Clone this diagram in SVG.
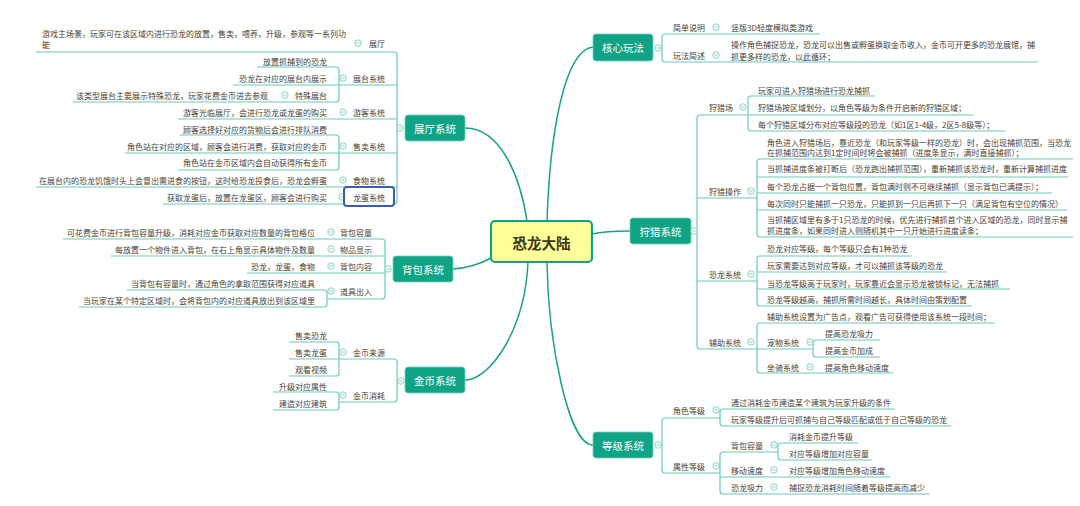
<svg xmlns="http://www.w3.org/2000/svg" xmlns:xlink="http://www.w3.org/1999/xlink" width="1080" height="506" viewBox="0 0 1080 506">
<style>
.t{font-family:"Noto Sans CJK SC","Liberation Sans",sans-serif;font-size:8px;fill:#4a4232;dominant-baseline:central}
.e{text-anchor:end}
.m{font-family:"Noto Sans CJK SC","Liberation Sans",sans-serif;font-size:10.5px;fill:#ffffff;text-anchor:middle;dominant-baseline:central}
.nb{fill:#10a386;stroke:#6fd0bc;stroke-width:0.8}
.br{fill:none;stroke:#6ccab6;stroke-width:1.2}
.cv{fill:none;stroke:#1aa38a;stroke-width:1.5}
</style>
<defs>
<g id="c"><circle r="3.2" fill="#ffffff" stroke="#79cdbb" stroke-width="0.9"/><line x1="-1.7" x2="1.7" y1="0" y2="0" stroke="#79cdbb" stroke-width="0.9"/></g>
</defs>
<rect width="1080" height="506" fill="#ffffff"/>
<g id="connectors">
<path class="cv" d="M465,128 C500,128 520,175 527,221"/>
<path class="cv" d="M593,47 C565,50 550,130 547,221"/>
<path class="cv" d="M592,234 C605,231 615,231 630,231"/>
<path class="cv" d="M491,258 C478,265 468,268 453,269"/>
<path class="cv" d="M528,262 C525,330 490,380 465,380"/>
<path class="cv" d="M547,262 C548,340 568,445 593,445"/>
<!-- 展厅系统 -->
<path class="br" d="M36,52 H394 Q397,52 397,55 V201 Q397,204 394,204 H163"/>
<path class="br" d="M233,85 H397 M178,119 H397 M125,153 H397 M36,187 H397"/>
<path class="br" d="M257,67 H336 Q339,67 339,70 V99 Q339,102 336,102 H73"/>
<path class="br" d="M180,135 H336 Q339,135 339,138 V167 Q339,170 336,170 H178"/>
<!-- 背包系统 -->
<path class="br" d="M63,239 H382 Q385,239 385,242 V296 Q385,299 382,299 H327"/>
<path class="br" d="M111,256 H385 M247,273 H385"/>
<path class="br" d="M127,290 H324 Q327,290 327,293 V304 Q327,307 324,307 H79"/>
<!-- 金币系统 -->
<path class="br" d="M339,359 H394 Q397,359 397,362 V399 Q397,402 394,402 H339"/>
<path class="br" d="M289,342 H336 Q339,342 339,345 V373 Q339,376 336,376 H289 M289,359 H339"/>
<path class="br" d="M273,392 H336 Q339,392 339,395 V407 Q339,410 336,410 H273"/>
<!-- 核心玩法 -->
<path class="br" d="M820,34 H665 Q662,34 662,37 V59 Q662,62 665,62 H1038"/>
<!-- 狩猎系统 -->
<path class="br" d="M748,115 H700 Q697,115 697,118 V346 Q697,349 700,349 H813"/>
<path class="br" d="M697,198 H757 M697,281 H757"/>
<path class="br" d="M875,96 H751 Q748,96 748,99 V128 Q748,131 751,131 H1005 M748,115 H973"/>
<path class="br" d="M1073,159 H760 Q757,159 757,162 V234 Q757,237 760,237 H1073 M757,177 H1068 M757,193 H1052 M757,210 H1067"/>
<path class="br" d="M912,256 H760 Q757,256 757,259 V303 Q757,306 760,306 H972 M757,272 H947 M757,289 H1010"/>
<path class="br" d="M995,323 H760 Q757,323 757,326 V370 Q757,373 760,373 H893"/>
<path class="br" d="M880,340 H816 Q813,340 813,343 V354 Q813,357 816,357 H880"/>
<!-- 等级系统 -->
<path class="br" d="M720,418 H665 Q662,418 662,421 V470 Q662,473 665,473 H720"/>
<path class="br" d="M895,409 H723 Q720,409 720,412 V423 Q720,426 723,426 H951"/>
<path class="br" d="M778,452 H723 Q720,452 720,455 V491 Q720,494 723,494 H930 M720,477 H890"/>
<path class="br" d="M858,443 H781 Q778,443 778,446 V457 Q778,460 781,460 H872"/>
</g>
<!-- center -->
<g id="root">
<rect x="491" y="221" width="101" height="41" rx="4" fill="#ffff99" stroke="#16a085" stroke-width="2.2"/>
<text x="541.5" y="242" style="font-family:'Noto Sans CJK SC','Liberation Sans',sans-serif;font-size:14.5px;font-weight:bold;fill:#3d3510;text-anchor:middle;dominant-baseline:central">恐龙大陆</text>
</g>
<!-- main nodes -->
<g id="n-zhanting"><rect class="nb" x="405" y="115" width="60" height="26" rx="3"/><text class="m" x="435" y="128">展厅系统</text><use xlink:href="#c" x="400" y="128"/></g>
<g id="n-beibao"><rect class="nb" x="393" y="256" width="60" height="26" rx="3"/><text class="m" x="423" y="269">背包系统</text><use xlink:href="#c" x="388" y="269"/></g>
<g id="n-jinbi"><rect class="nb" x="405" y="367" width="60" height="26" rx="3"/><text class="m" x="435" y="380">金币系统</text><use xlink:href="#c" x="401" y="381"/></g>
<g id="n-hexin"><rect class="nb" x="593" y="34" width="60" height="27" rx="3"/><text class="m" x="623" y="47.5">核心玩法</text><use xlink:href="#c" x="658" y="48"/></g>
<g id="n-shoulie"><rect class="nb" x="630" y="218" width="61" height="26" rx="3"/><text class="m" x="660.5" y="231">狩猎系统</text><use xlink:href="#c" x="694" y="231"/></g>
<g id="n-dengji"><rect class="nb" x="593" y="432" width="60" height="26" rx="3"/><text class="m" x="623" y="445">等级系统</text><use xlink:href="#c" x="658" y="445"/></g>
<!-- 展厅 children -->
<g id="n-zt"><text class="t e" x="385" y="43">展厅</text><use xlink:href="#c" x="358" y="43"/></g>
<g id="n-zt-d"><text class="t" x="42" y="33">游戏主场景，玩家可在该区域内进行恐龙的放置，售卖，喂养，升级，参观等一系列功</text><text class="t" x="42" y="44">能</text></g>
<g id="n-ztxt"><text class="t e" x="385" y="78">展台系统</text><use xlink:href="#c" x="343" y="78"/></g>
<g id="n-ztxt-1"><text class="t e" x="327" y="61">放置抓捕到的恐龙</text></g>
<g id="n-ztxt-2"><text class="t e" x="327" y="78">恐龙在对应的展台内展示</text></g>
<g id="n-tszt"><text class="t e" x="327" y="95">特殊展台</text><use xlink:href="#c" x="285" y="95"/></g>
<g id="n-tszt-d"><text class="t e" x="268" y="95">该类型展台主要展示特殊恐龙，玩家花费金币进去参观</text></g>
<g id="n-ykxt"><text class="t e" x="385" y="112">游客系统</text><use xlink:href="#c" x="343" y="112"/></g>
<g id="n-ykxt-d"><text class="t e" x="327" y="112">游客光临展厅，会进行恐龙或龙蛋的购买</text></g>
<g id="n-smxt"><text class="t e" x="385" y="146">售卖系统</text><use xlink:href="#c" x="343" y="146"/></g>
<g id="n-smxt-1"><text class="t e" x="327" y="129">顾客选择好对应的货物后会进行排队消费</text></g>
<g id="n-smxt-2"><text class="t e" x="327" y="146">角色站在对应的区域，顾客会进行消费，获取对应的金币</text></g>
<g id="n-smxt-3"><text class="t e" x="327" y="162">角色站在金币区域内会自动获得所有金币</text></g>
<g id="n-swxt"><text class="t e" x="385" y="180">食物系统</text><use xlink:href="#c" x="343" y="180"/></g>
<g id="n-swxt-d"><text class="t e" x="327" y="180">在展台内的恐龙饥饿时头上会冒出需进食的按钮，这时给恐龙投食后，恐龙会孵蛋</text></g>
<g id="n-ldxt"><use xlink:href="#c" x="342" y="197"/><rect x="344" y="187" width="50" height="19" rx="3" fill="#ffffff" stroke="#3a5db3" stroke-width="2"/><text class="t e" x="385" y="197">龙蛋系统</text></g>
<g id="n-ldxt-d"><text class="t e" x="327" y="197">获取龙蛋后，放置在龙蛋区，顾客会进行购买</text></g>
<!-- 背包 children -->
<g id="n-bbrl"><text class="t e" x="372" y="232">背包容量</text><use xlink:href="#c" x="331" y="232"/></g>
<g id="n-bbrl-d"><text class="t e" x="315" y="232">可花费金币进行背包容量升级，消耗对应金币获取对应数量的背包格位</text></g>
<g id="n-wpxs"><text class="t e" x="372" y="249">物品显示</text><use xlink:href="#c" x="331" y="249"/></g>
<g id="n-wpxs-d"><text class="t e" x="315" y="249">每放置一个物件进入背包，在右上角显示具体物件及数量</text></g>
<g id="n-bbnr"><text class="t e" x="372" y="266">背包内容</text><use xlink:href="#c" x="331" y="266"/></g>
<g id="n-bbnr-d"><text class="t e" x="315" y="266">恐龙，龙蛋，食物</text></g>
<g id="n-djcr"><text class="t e" x="372" y="291">道具出入</text><use xlink:href="#c" x="331" y="291"/></g>
<g id="n-djcr-1"><text class="t e" x="315" y="283">当背包有容量时，通过角色的拿取范围获得对应道具</text></g>
<g id="n-djcr-2"><text class="t e" x="315" y="300">当玩家在某个特定区域时，会将背包内的对应道具放出到该区域里</text></g>
<!-- 金币 children -->
<g id="n-jbly"><text class="t e" x="385" y="352">金币来源</text><use xlink:href="#c" x="343" y="352"/></g>
<g id="n-jbly-1"><text class="t e" x="327" y="335">售卖恐龙</text></g>
<g id="n-jbly-2"><text class="t e" x="327" y="352">售卖龙蛋</text></g>
<g id="n-jbly-3"><text class="t e" x="327" y="369">观看视频</text></g>
<g id="n-jbxh"><text class="t e" x="385" y="395">金币消耗</text><use xlink:href="#c" x="343" y="395"/></g>
<g id="n-jbxh-1"><text class="t e" x="327" y="386">升级对应属性</text></g>
<g id="n-jbxh-2"><text class="t e" x="327" y="403">建造对应建筑</text></g>
<!-- 核心玩法 children -->
<g id="n-jdsm"><text class="t" x="673" y="27">简单说明</text><use xlink:href="#c" x="716" y="27"/></g>
<g id="n-jdsm-d"><text class="t" x="731" y="27">竖版3D轻度模拟类游戏</text></g>
<g id="n-wfjs"><text class="t" x="673" y="55">玩法简述</text><use xlink:href="#c" x="716" y="55"/></g>
<g id="n-wfjs-d"><text class="t" x="731" y="44">操作角色捕捉恐龙，恐龙可以出售或孵蛋换取金币收入，金币可开更多的恐龙展馆，捕</text><text class="t" x="731" y="56">抓更多样的恐龙，以此循环；</text></g>
<!-- 狩猎系统 children -->
<g id="n-slc"><text class="t" x="709" y="107">狩猎场</text><use xlink:href="#c" x="743" y="107"/></g>
<g id="n-slc-1"><text class="t" x="758" y="90">玩家可进入狩猎场进行恐龙捕抓</text></g>
<g id="n-slc-2"><text class="t" x="758" y="107">狩猎场按区域划分，以角色等级为条件开启新的狩猎区域；</text></g>
<g id="n-slc-3"><text class="t" x="758" y="124">每个狩猎区域分布对应等级段的恐龙（如1区1-4级，2区5-8级等）；</text></g>
<g id="n-slcz"><text class="t" x="709" y="191">狩猎操作</text><use xlink:href="#c" x="751" y="191"/></g>
<g id="n-slcz-1"><text class="t" x="767" y="142">角色进入狩猎场后，靠近恐龙（和玩家等级一样的恐龙）时，会出现捕抓范围，当恐龙</text><text class="t" x="767" y="152">在抓捕范围内达到1定时间时将会被捕抓（进度条显示，满时直接捕抓）；</text></g>
<g id="n-slcz-2"><text class="t" x="767" y="168">当抓捕进度条被打断后（恐龙跑出捕抓范围），重新捕抓该恐龙时，重新计算捕抓进度</text></g>
<g id="n-slcz-3"><text class="t" x="767" y="186">每个恐龙占据一个背包位置，背包满时则不可继续捕抓（显示背包已满提示）；</text></g>
<g id="n-slcz-4"><text class="t" x="767" y="203">每次同时只能捕抓一只恐龙，只能抓到一只后再抓下一只（满足背包有空位的情况）</text></g>
<g id="n-slcz-5"><text class="t" x="767" y="219">当抓捕区域里有多于1只恐龙的时候，优先进行捕抓首个进入区域的恐龙，同时显示捕</text><text class="t" x="767" y="230">抓进度条，如果同时进入则随机其中一只开始进行进度读条；</text></g>
<g id="n-klxt"><text class="t" x="709" y="274">恐龙系统</text><use xlink:href="#c" x="751" y="274"/></g>
<g id="n-klxt-1"><text class="t" x="767" y="248">恐龙对应等级，每个等级只会有1种恐龙</text></g>
<g id="n-klxt-2"><text class="t" x="767" y="265">玩家需要达到对应等级，才可以捕抓该等级的恐龙</text></g>
<g id="n-klxt-3"><text class="t" x="767" y="283">当恐龙等级高于玩家时，玩家靠近会显示恐龙被锁标记，无法捕抓</text></g>
<g id="n-klxt-4"><text class="t" x="767" y="299">恐龙等级越高，捕抓所需时间越长，具体时间由策划配置</text></g>
<g id="n-fzxt"><text class="t" x="709" y="342">辅助系统</text><use xlink:href="#c" x="751" y="342"/></g>
<g id="n-fzxt-1"><text class="t" x="767" y="316">辅助系统设置为广告点，观看广告可获得使用该系统一段时间；</text></g>
<g id="n-cwxt"><text class="t" x="767" y="342">宠物系统</text><use xlink:href="#c" x="810" y="342"/></g>
<g id="n-cwxt-1"><text class="t" x="825" y="333">提高恐龙吸力</text></g>
<g id="n-cwxt-2"><text class="t" x="825" y="350">提高金币加成</text></g>
<g id="n-zqxt"><text class="t" x="767" y="367">坐骑系统</text><use xlink:href="#c" x="810" y="367"/></g>
<g id="n-zqxt-1"><text class="t" x="825" y="367">提高角色移动速度</text></g>
<!-- 等级系统 children -->
<g id="n-jsdj"><text class="t" x="673" y="410">角色等级</text><use xlink:href="#c" x="716" y="410"/></g>
<g id="n-jsdj-1"><text class="t" x="731" y="402">通过消耗金币建造某个建筑为玩家升级的条件</text></g>
<g id="n-jsdj-2"><text class="t" x="731" y="419">玩家等级提升后可抓捕与自己等级匹配或低于自己等级的恐龙</text></g>
<g id="n-sxdj"><text class="t" x="673" y="466">属性等级</text><use xlink:href="#c" x="716" y="466"/></g>
<g id="n-bbrl2"><text class="t" x="731" y="445">背包容量</text><use xlink:href="#c" x="774" y="445"/></g>
<g id="n-bbrl2-1"><text class="t" x="789" y="436">消耗金币提升等级</text></g>
<g id="n-bbrl2-2"><text class="t" x="789" y="453">对应等级增加对应容量</text></g>
<g id="n-ydsd"><text class="t" x="731" y="470">移动速度</text><use xlink:href="#c" x="774" y="470"/></g>
<g id="n-ydsd-1"><text class="t" x="789" y="470">对应等级增加角色移动速度</text></g>
<g id="n-klxl"><text class="t" x="731" y="487">恐龙吸力</text><use xlink:href="#c" x="774" y="487"/></g>
<g id="n-klxl-1"><text class="t" x="789" y="487">捕捉恐龙消耗时间随着等级提高而减少</text></g>
</svg>
